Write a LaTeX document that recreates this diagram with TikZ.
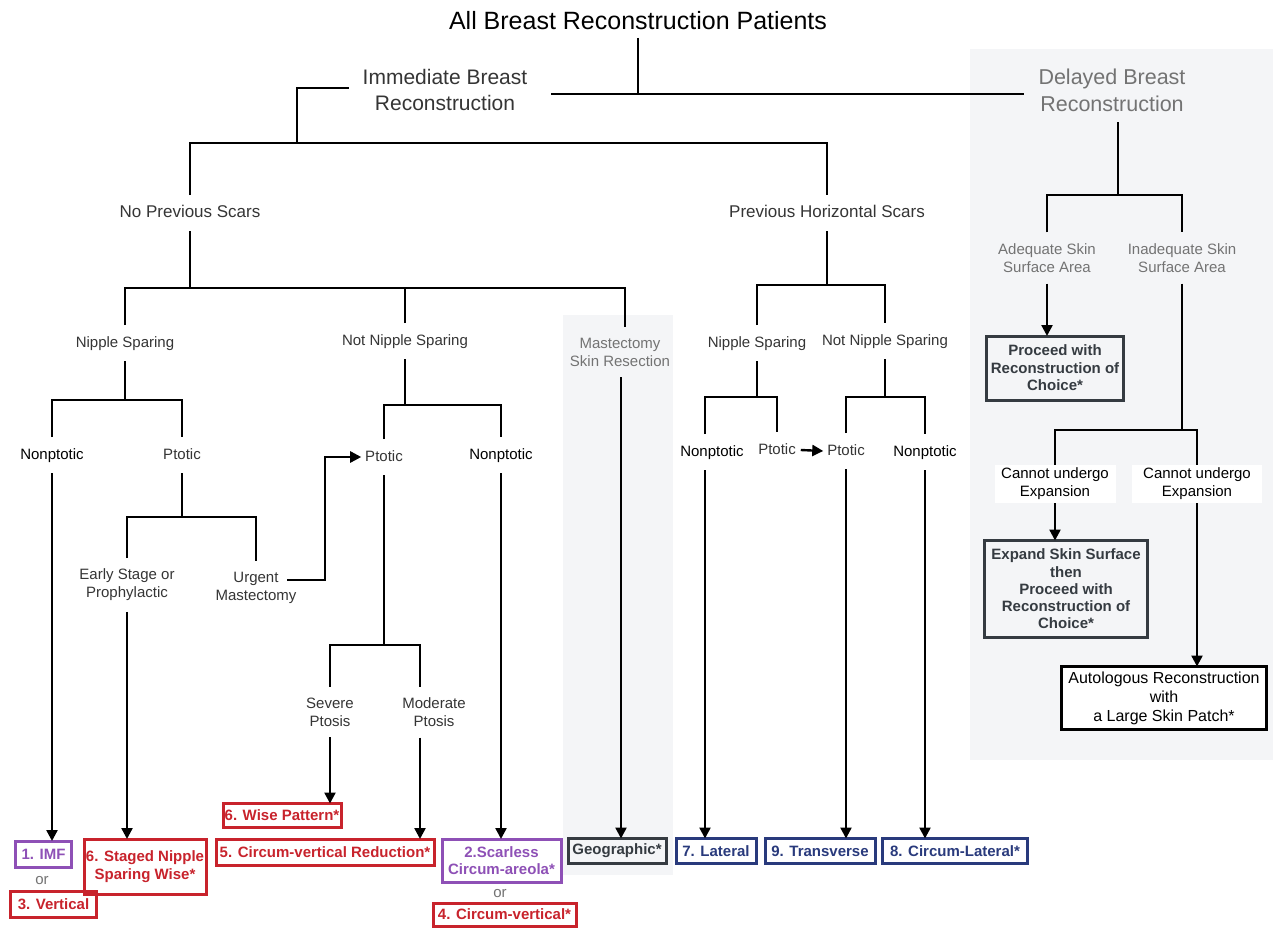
\documentclass[tikz,border=0pt]{standalone}
\usepackage{fontspec}
\setmainfont{Liberation Sans}
\usetikzlibrary{arrows.meta,calc}
\definecolor{lblgray}{HTML}{353535}
\definecolor{ltgray}{HTML}{737373}
\definecolor{panelgray}{HTML}{F4F5F7}
\definecolor{bred}{HTML}{C8232C}
\definecolor{bpurple}{HTML}{8E50B6}
\definecolor{bblue}{HTML}{293A7C}
\definecolor{bdark}{HTML}{353B41}
\begin{document}
\begin{tikzpicture}[x=1pt,y=-1pt,
  ln/.style={line width=2.4pt,draw=black},
  arr/.style={ln,-{Triangle[length=11pt,width=11pt]}},
  lb/.style={inner sep=0pt,outer xsep=0pt,outer ysep=11pt,align=center,text=lblgray,
     font=\fontsize{15}{18}\selectfont},
  sl/.style={text height=11pt,text depth=3pt},
  blk/.style={text=black},
  lt/.style={text=ltgray},
  big/.style={font=\fontsize{21}{26}\selectfont,outer ysep=11pt},
  mid/.style={font=\fontsize{17}{20}\selectfont,text height=12.5pt,text depth=3.5pt,outer ysep=10pt},
  res/.style={draw,line width=3pt,inner sep=0pt,outer sep=0pt,align=center,
     font=\bfseries\fontsize{15}{17.5}\selectfont},
  rd/.style={res,draw=bred,text=bred},
  pu/.style={res,draw=bpurple,text=bpurple},
  bl/.style={res,draw=bblue,text=bblue},
  dk/.style={res,draw=bdark,text=bdark},
  orl/.style={inner sep=0pt,text=ltgray,font=\fontsize{15}{18}\selectfont},
  cu/.style={fill=white,inner sep=0pt,align=center,font=\fontsize{15}{18}\selectfont,
     text=black,minimum height=38pt},
]
\useasboundingbox (0,0) rectangle (1273,928);
\fill[white] (0,0) rectangle (1273,928);
% panels
\fill[panelgray] (970,49) rectangle (1273,760);
\fill[panelgray] (563,315) rectangle (673,875);

% ---- labels ----
\node[lb,font=\fontsize{25}{30}\selectfont,text=black,text height=18pt,text depth=0pt,outer ysep=8pt] (title) at (638,21) {All Breast Reconstruction Patients};
\node[lb,big] (imm) at (445,90) {Immediate Breast\\Reconstruction};
\node[lb,big,lt,font=\fontsize{21.5}{27}\selectfont] (del) at (1112,90) {Delayed Breast\\Reconstruction};
\node[lb,mid] (nps) at (190,213) {No Previous Scars};
\node[lb,mid] (phs) at (827,213) {Previous Horizontal Scars};
\node[lb,sl] (ns1) at (125,343) {Nipple Sparing};
\node[lb,sl] (nns1) at (405,341) {Not Nipple Sparing};
\node[lb,lt] (mast) at (620,352) {Mastectomy\\Skin Resection};
\node[lb,sl,blk] (np1) at (52,455) {Nonptotic};
\node[lb,sl] (pt1) at (182,455) {Ptotic};
\node[lb] (early) at (127,585) {Early Stage or\\Prophylactic};
\node[lb] (urg) at (256,588) {Urgent\\Mastectomy};
\node[lb,sl] (pt2) at (384,457) {Ptotic};
\node[lb,sl,blk] (np2) at (501,455) {Nonptotic};
\node[lb] (sev) at (330,712) {Severe\\Ptosis};
\node[lb] (mod) at (434,712) {Moderate\\Ptosis};
\node[lb,sl] (ns2) at (757,343) {Nipple Sparing};
\node[lb,sl] (nns2) at (885,341) {Not Nipple Sparing};
\node[lb,sl,blk] (np3) at (712,452) {Nonptotic};
\node[lb,sl] (pt3) at (777,450) {Ptotic};
\node[lb,sl] (pt4) at (846,451) {Ptotic};
\node[lb,sl,blk] (np4) at (925,452) {Nonptotic};
\node[lb,lt] (adq) at (1047,258) {Adequate Skin\\Surface Area};
\node[lb,lt] (inadq) at (1182,258) {Inadequate Skin\\Surface Area};
\node[cu,minimum width=121pt] (cu1) at (1055,484) {Cannot undergo\\Expansion};
\node[cu,minimum width=130pt] (cu2) at (1197,484) {Cannot undergo\\Expansion};

% ---- result boxes ----
\node[dk,minimum width=137pt,minimum height=64pt] (proc) at (1055,368) {Proceed with\\Reconstruction of\\Choice*};
\node[dk,minimum width=163pt,minimum height=97pt,font=\bfseries\fontsize{15}{17.3}\selectfont] (exp) at (1066,589) {Expand Skin Surface\\then\\Proceed with\\Reconstruction of\\Choice*};
\node[res,draw=black,text=black,fill=white,font=\fontsize{16}{19}\selectfont,minimum width=205pt,minimum height=63pt] (auto) at (1164,698) {Autologous Reconstruction\\with\\a Large Skin Patch*};

\node[pu,minimum width=56pt,minimum height=26pt] (imf) at (43.5,854) {1. IMF};
\node[orl] (or1) at (42,881) {or};
\node[rd,minimum width=86pt,minimum height=26pt] (vert) at (53.5,904) {3. Vertical};
\node[rd,minimum width=122pt,minimum height=55pt] (staged) at (145,866.5) {6. Staged Nipple\\Sparing Wise*};
\node[rd,minimum width=118pt,minimum height=24pt] (wise) at (282,815.5) {6. Wise Pattern*};
\node[rd,minimum width=218pt,minimum height=26pt] (cvr) at (325,852) {5. Circum-vertical Reduction*};
\node[pu,minimum width=119pt,minimum height=43pt] (scar) at (501.5,860.5) {2.Scarless\\Circum-areola*};
\node[orl] (or2) at (500,894) {or};
\node[rd,minimum width=143pt,minimum height=23pt] (cv) at (504.5,914.5) {4. Circum-vertical*};
\node[dk,minimum width=98pt,minimum height=25pt] (geo) at (617,851) {Geographic*};
\node[bl,minimum width=80pt,minimum height=25pt] (lat) at (716,851) {7. Lateral};
\node[bl,minimum width=110pt,minimum height=25pt] (trans) at (820,851) {9. Transverse};
\node[bl,minimum width=145pt,minimum height=25pt] (clat) at (955,851) {8. Circum-Lateral*};

% ---- helper coordinates ----
\coordinate (j0) at (638,94);
\coordinate (b1) at (297,143);
\coordinate (b2) at (0,288);
\coordinate (b3) at (0,400);
\coordinate (b4) at (0,517);
\coordinate (b5) at (0,405);
\coordinate (b6) at (0,645);
\coordinate (b7) at (0,285);
\coordinate (b8) at (0,397);
\coordinate (b9) at (0,195);
\coordinate (b10) at (0,430);
\coordinate (mN) at ($(mast.north)+(5,0)$);
\coordinate (mS) at ($(mast.south)+(1,0)$);
\coordinate (modN) at ($(mod.north)+(-14,0)$);
\coordinate (modS) at ($(mod.south)+(-14,0)$);
\coordinate (np3N) at ($(np3.north)+(-7,0)$);
\coordinate (np3S) at ($(np3.south)+(-7,0)$);
\coordinate (dN) at ($(del.south)+(6,0)$);
\coordinate (us) at ($(urg.east)+(-9,-8)$);
\coordinate (uc) at ($(pt2.west)+(-40,0)$);
\coordinate (ue) at ($(pt2.west)+(-4,0)$);

% ---- connectors ----
\draw[ln] (title.south) -- (title.south |- j0);
\draw[ln] ($(imm.east)+(24,4)$) -- ($(del.west)+(-15,4)$);
\draw[ln] ($(imm.west)+(-14,-2)$) -| (b1);
\draw[ln] (nps.north) -- (nps.north |- b1) -- (phs.north |- b1) -- (phs.north);

\draw[ln] (nps.south) -- (nps.south |- b2);
\draw[ln] (ns1.north) -- (ns1.north |- b2) -- (mN |- b2) -- (mN);
\draw[ln] (nns1.north) -- (nns1.north |- b2);

\draw[ln] (ns1.south) -- (ns1.south |- b3);
\draw[ln] (np1.north) -- (np1.north |- b3) -- (pt1.north |- b3) -- (pt1.north);
\draw[ln] (pt1.south) -- (pt1.south |- b4);
\draw[ln] (early.north) -- (early.north |- b4) -- (urg.north |- b4) -- (urg.north);
\draw[arr] (us) -| (uc) -- (ue);

\draw[ln] (nns1.south) -- (nns1.south |- b5);
\draw[ln] (pt2.north) -- (pt2.north |- b5) -- (np2.north |- b5) -- (np2.north);
\draw[ln] (pt2.south) -- (pt2.south |- b6);
\draw[ln] (sev.north) -- (sev.north |- b6) -- (modN |- b6) -- (modN);

\draw[arr] (np1.south) -- (np1.south |- imf.north);
\draw[arr] (early.south) -- (early.south |- staged.north);
\draw[arr] (sev.south) -- (sev.south |- wise.north);
\draw[arr] (modS) -- (modS |- cvr.north);
\draw[arr] (np2.south) -- (np2.south |- scar.north);
\draw[arr] (mS) -- (mS |- geo.north);

\draw[ln] (phs.south) -- (phs.south |- b7);
\draw[ln] (ns2.north) -- (ns2.north |- b7) -- (nns2.north |- b7) -- (nns2.north);
\draw[ln] (ns2.south) -- (ns2.south |- b8);
\draw[ln] (np3N) -- (np3N |- b8) -- (pt3.north |- b8) -- (pt3.north);
\draw[ln] (nns2.south) -- (nns2.south |- b8);
\draw[ln] (pt4.north) -- (pt4.north |- b8) -- (np4.north |- b8) -- (np4.north);
\draw[arr] ($(pt3.east)+(5,0)$) -- ($(pt4.west)+(-4,0)$);
\draw[arr] (np3S) -- (np3S |- lat.north);
\draw[arr] (pt4.south) -- (pt4.south |- trans.north);
\draw[arr] (np4.south) -- (np4.south |- clat.north);

\draw[ln] (dN) -- (dN |- b9);
\draw[ln] (adq.north) -- (adq.north |- b9) -- (inadq.north |- b9) -- (inadq.north);
\draw[arr] (adq.south) -- (adq.south |- proc.north);
\draw[ln] (inadq.south) -- (inadq.south |- b10);
\draw[ln] (cu1.north) -- (cu1.north |- b10) -- (cu2.north |- b10) -- (cu2.north);
\draw[arr] (cu1.south) -- (cu1.south |- exp.north);
\draw[arr] (cu2.south) -- (cu2.south |- auto.north);
\end{tikzpicture}
\end{document}
